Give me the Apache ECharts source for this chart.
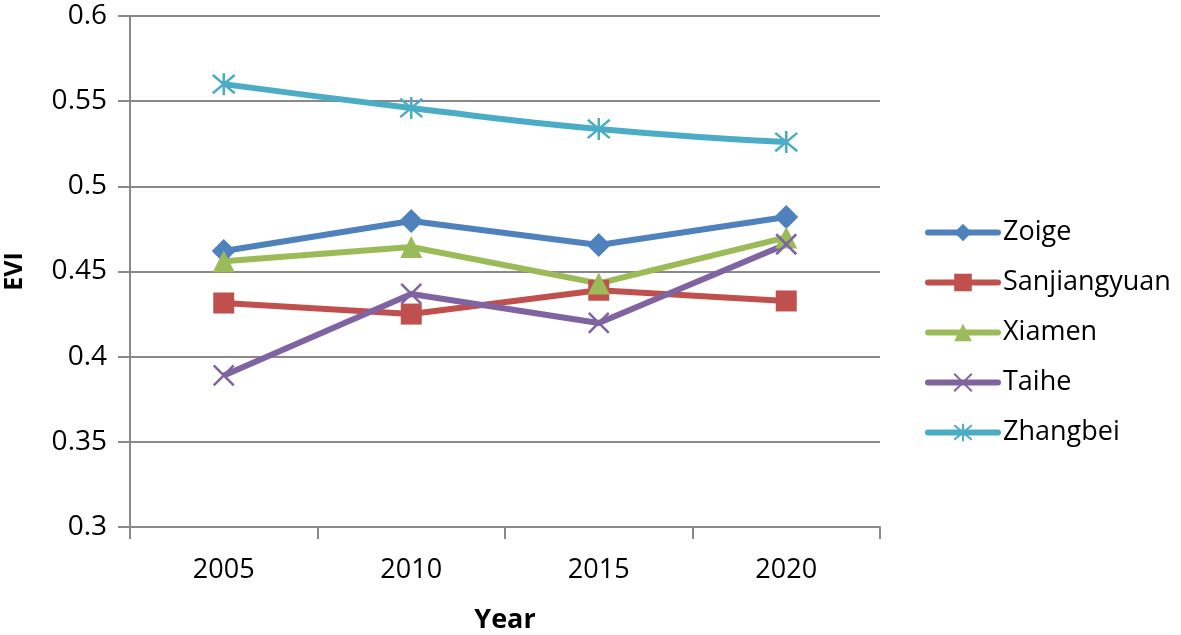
<!DOCTYPE html>
<html><head><meta charset="utf-8">
<script src="https://cdn.jsdelivr.net/npm/echarts@6/dist/echarts.min.js"></script>
<style>html,body{margin:0;padding:0;background:#fff}#c{width:1181px;height:635px}</style>
</head><body><div id="c"></div>
<script>
const years = ['2005','2010','2015','2020'];
const zoige = [0.462, 0.4796, 0.4656, 0.482];
const sanjiangyuan = [0.4315, 0.425, 0.439, 0.4327];
const xiamen = [0.456, 0.4644, 0.443, 0.470];
const taihe = [0.389, 0.4368, 0.4198, 0.466];
const zhangbei = [0.560, 0.546, 0.5337, 0.526];

const FONT = '"Open Sans", "Liberation Sans", sans-serif';
const xSym = 'path://M0,0L10,10M10,0L0,10';
const starSym = 'path://M0,0L10,10M10,0L0,10M5,-1L5,11';
function s(name, data, color, symbol, size, opts) {
  return Object.assign({
    name, type: 'line', data, symbol, symbolSize: size,
    lineStyle: { color, width: 6 },
    itemStyle: { color },
    emphasis: { disabled: true }
  }, opts || {});
}
const chart = echarts.init(document.getElementById('c'));
chart.setOption({
  animation: false,
  textStyle: { fontFamily: FONT },
  grid: { left: 130, right: 301, top: 16, bottom: 108, outerBoundsMode: 'none', containLabel: false },
  legend: {
    orient: 'vertical', left: 920, top: 214, itemWidth: 70, itemHeight: 22, itemGap: 23,
    lineStyle: { width: 6, cap: 'round' },
    textStyle: { fontSize: 27, color: '#000', fontFamily: FONT, padding: [0, 0, 0, 0] },
    data: ['Zoige','Sanjiangyuan','Xiamen','Taihe','Zhangbei']
  },
  xAxis: {
    type: 'category', data: years, boundaryGap: true,
    name: 'Year', nameLocation: 'middle', nameGap: 80,
    nameTextStyle: { fontSize: 27, fontWeight: 'bold', color: '#000' },
    axisLine: { lineStyle: { color: '#898989', width: 2 } },
    axisTick: { show: true, length: 12, lineStyle: { color: '#898989', width: 2 } },
    axisLabel: { fontSize: 27, color: '#000', margin: 30 }
  },
  yAxis: {
    type: 'value', min: 0.3, max: 0.6, interval: 0.05,
    name: 'EVI', nameLocation: 'middle', nameGap: 103, nameRotate: 90,
    nameTextStyle: { fontSize: 25, fontWeight: 'bold', color: '#000' },
    axisLine: { show: true, lineStyle: { color: '#898989', width: 2 } },
    axisTick: { show: true, length: 12, lineStyle: { color: '#898989', width: 2 } },
    axisLabel: { fontSize: 28, color: '#000', margin: 23, formatter: v => String(+v.toFixed(2)) },
    splitLine: { lineStyle: { color: '#898989', width: 2 } }
  },
  series: [
    s('Zoige', zoige, '#4F81BD', 'diamond', 24),
    s('Sanjiangyuan', sanjiangyuan, '#C0504D', 'rect', 21),
    s('Xiamen', xiamen, '#9BBB59', 'triangle', 22),
    s('Taihe', taihe, '#8064A2', xSym, 20, { itemStyle: { color: '#8064A2', borderColor: '#8064A2', borderWidth: 2.5 } }),
    s('Zhangbei', zhangbei, '#4BACC6', starSym, 22, { smooth: true, itemStyle: { color: '#4BACC6', borderColor: '#4BACC6', borderWidth: 2.5 } })
  ]
});
</script></body></html>
